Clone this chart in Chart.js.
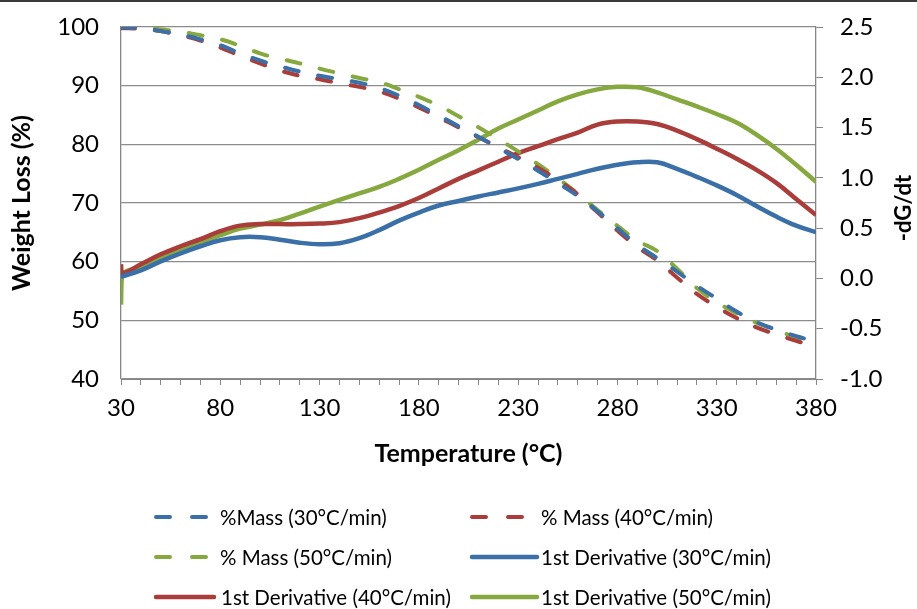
<!DOCTYPE html>
<html>
<head>
<meta charset="utf-8">
<script src="https://cdn.jsdelivr.net/npm/chart.js@4.4.0/dist/chart.umd.min.js"></script>
<style>
  html, body { margin: 0; padding: 0; background: #fff; }
  #wrap { position: relative; width: 917px; height: 609px; overflow: hidden; }
  #topline { position: absolute; left: 0; top: 0; width: 917px; height: 2px; background: #3a3a3a; }
  .leg-text { position: absolute; font-family: Lato, sans-serif; font-size: 20.5px; line-height: 24px; color: #000; white-space: nowrap; }
  .leg-line { position: absolute; }
</style>
</head>
<body>
<div id="wrap">
  <canvas id="chart" width="917" height="609"></canvas>
  <div id="topline"></div>
  <div id="legend"></div>
</div>
<script>
// temperature (°C)
const temps = [30, 30.5, 40, 50, 60, 70, 80, 90, 100, 110, 120, 130, 140, 150, 160, 170, 180, 190, 200,
  210, 220, 230, 240, 250, 260, 270, 280, 290, 300, 310, 320, 330, 340, 350, 360, 370, 380];

// weight loss (%)
const mass30 = [99.9, 99.9, 99.8, 99.3, 98.7, 97.9, 96.9, 95.5, 94.3, 93.3, 92.4, 91.7, 91.1, 90.5, 89.6, 88.3, 86.7, 84.9, 83.1,
  81.3, 79.4, 77.5, 75.5, 73.4, 71.2, 68.6, 65.7, 62.9, 60.6, 58.3, 55.9, 53.7, 51.5, 49.7, 48.4, 47.3, 46.4];
const mass40 = [99.8, 99.8, 99.7, 99.3, 98.6, 97.7, 96.5, 95.1, 93.8, 92.6, 91.7, 91.1, 90.4, 89.8, 89.0, 87.8, 86.3, 84.6, 82.9,
  81.2, 79.5, 77.8, 76.0, 73.9, 71.5, 68.4, 65.3, 62.5, 60.2, 57.3, 54.5, 52.3, 50.4, 48.8, 47.6, 46.5, 45.5];
const mass50 = [100.0, 100.0, 100.0, 99.6, 99.2, 98.6, 97.9, 96.8, 95.5, 94.6, 93.8, 92.9, 92.1, 91.3, 90.6, 89.4, 88.1, 86.6, 84.8,
  82.9, 80.9, 78.8, 76.6, 74.2, 71.6, 68.8, 66.1, 63.6, 61.8, 58.8, 55.5, 53.1, 51.2, 49.6, 48.3, 47.1, 46.1];

// -dG/dt
const deriv30 = [0.02, 0.02, 0.08, 0.17, 0.25, 0.32, 0.38, 0.41, 0.41, 0.385, 0.355, 0.34, 0.35, 0.40, 0.48, 0.575, 0.655, 0.725, 0.77,
  0.815, 0.855, 0.895, 0.94, 0.99, 1.04, 1.09, 1.13, 1.155, 1.155, 1.09, 1.01, 0.925, 0.83, 0.72, 0.615, 0.525, 0.46];
const deriv40 = [0.14, 0.05, 0.14, 0.24, 0.32, 0.39, 0.47, 0.525, 0.54, 0.54, 0.54, 0.545, 0.56, 0.60, 0.655, 0.72, 0.80, 0.895, 0.99,
  1.075, 1.16, 1.245, 1.315, 1.385, 1.45, 1.53, 1.56, 1.56, 1.535, 1.47, 1.385, 1.29, 1.19, 1.08, 0.95, 0.79, 0.63];
const deriv50 = [-0.26, 0.03, 0.12, 0.21, 0.29, 0.36, 0.43, 0.495, 0.535, 0.58, 0.645, 0.715, 0.78, 0.845, 0.91, 0.99, 1.08, 1.18, 1.275,
  1.38, 1.49, 1.58, 1.67, 1.76, 1.83, 1.88, 1.905, 1.90, 1.85, 1.78, 1.71, 1.635, 1.55, 1.43, 1.29, 1.13, 0.96];

const seriesLabels = ['%Mass (30°C/min)', '% Mass (40°C/min)', '% Mass (50°C/min)',
  '1st Derivative (30°C/min)', '1st Derivative (40°C/min)', '1st Derivative (50°C/min)'];

const BLUE = '#3b6fa8';
const RED = '#aa3d3a';
const GREEN = '#86a93f';
const AXIS = '#868686';
const FONT = 'Lato, sans-serif';

function pts(values) {
  return temps.map((t, i) => ({ x: t, y: values[i] }));
}

function massSet(label, values, color) {
  return {
    label: label, data: pts(values), yAxisID: 'y',
    borderColor: color, backgroundColor: color,
    borderWidth: 4, borderDash: [14, 20], borderCapStyle: 'round',
    tension: 0.4, pointRadius: 0, order: 1
  };
}

function derivSet(label, values, color) {
  return {
    label: label, data: pts(values), yAxisID: 'y1',
    borderColor: color, backgroundColor: color,
    borderWidth: 4.5, tension: 0.4, pointRadius: 0, order: 2
  };
}

const colors = [BLUE, RED, GREEN, BLUE, RED, GREEN];

// vertical axes: keep the tick label gap from pushing the plot area down
function fixVertical(width) {
  return s => {
    s.width = width;
    s.paddingTop = 0;
    s.paddingBottom = 0;
  };
}

// right axis title reads bottom-to-top like the left one
const rightTitle = {
  id: 'rightTitle',
  afterDraw(chart) {
    const c = chart.ctx;
    c.save();
    c.translate(904, 208);
    c.rotate(-Math.PI / 2);
    c.font = 'bold 22px ' + FONT;
    c.fillStyle = '#000';
    c.textAlign = 'center';
    c.textBaseline = 'middle';
    c.fillText('-dG/dt', 0, 0);
    c.restore();
  }
};

new Chart(document.getElementById('chart'), {
  type: 'line',
  data: {
    datasets: [
      massSet(seriesLabels[0], mass30, BLUE),
      massSet(seriesLabels[1], mass40, RED),
      massSet(seriesLabels[2], mass50, GREEN),
      derivSet(seriesLabels[3], deriv30, BLUE),
      derivSet(seriesLabels[4], deriv40, RED),
      derivSet(seriesLabels[5], deriv50, GREEN)
    ]
  },
  options: {
    responsive: false,
    animation: false,
    layout: { padding: { left: 0, right: 0, top: 27, bottom: 135 } },
    plugins: { legend: { display: false }, tooltip: { enabled: false } },
    scales: {
      x: {
        type: 'linear', min: 30, max: 380,
        ticks: {
          stepSize: 10, autoSkip: false, maxRotation: 0, padding: 9,
          color: '#000', font: { family: FONT, size: 24 },
          callback: v => ((v - 30) % 50 === 0 ? String(v) : '')
        },
        grid: { drawOnChartArea: false, drawTicks: true, tickLength: 6, color: AXIS },
        border: { color: AXIS, width: 1 },
        title: {
          display: true, text: 'Temperature (°C)', color: '#000',
          font: { family: FONT, size: 25, weight: 'bold' }, padding: { top: 0, bottom: 5 }
        },
        afterFit: s => { s.height = 95; }
      },
      y: {
        position: 'left', min: 40, max: 100,
        ticks: { stepSize: 10, padding: 22, color: '#000', font: { family: FONT, size: 24 } },
        grid: { color: '#8c8c8c', lineWidth: 1.3, drawTicks: false },
        border: { color: AXIS, width: 1.3 },
        title: {
          display: true, text: 'Weight Loss (%)', color: '#000',
          font: { family: FONT, size: 25, weight: 'bold' }, padding: { top: 7, bottom: 0 }
        },
        afterFit: fixVertical(121)
      },
      y1: {
        position: 'right', min: -1, max: 2.5,
        ticks: {
          stepSize: 0.5, padding: 17, color: '#000', font: { family: FONT, size: 24 },
          callback: v => v.toFixed(1)
        },
        grid: { drawOnChartArea: false, drawTicks: true, tickLength: 7, color: AXIS },
        border: { color: AXIS, width: 1.3 },
        afterFit: fixVertical(101)
      }
    }
  },
  plugins: [rightTitle]
});

// legend, two columns in three rows
const legendSlots = [
  { line: [156, 212], text: 220, y: 517 },
  { line: [472, 530], text: 541, y: 517 },
  { line: [156, 212], text: 220, y: 557 },
  { line: [472, 537], text: 541, y: 557 },
  { line: [156, 214], text: 221, y: 597 },
  { line: [472, 537], text: 541, y: 597 }
];
const legend = document.getElementById('legend');
legendSlots.forEach((slot, i) => {
  const dashed = i < 3;
  const w = slot.line[1] - slot.line[0] + 6;
  const svg = document.createElementNS('http://www.w3.org/2000/svg', 'svg');
  svg.setAttribute('class', 'leg-line');
  svg.setAttribute('width', w);
  svg.setAttribute('height', 10);
  svg.style.left = (slot.line[0] - 3) + 'px';
  svg.style.top = (slot.y - 5) + 'px';
  const ln = document.createElementNS('http://www.w3.org/2000/svg', 'line');
  ln.setAttribute('x1', 3);
  ln.setAttribute('x2', w - 3);
  ln.setAttribute('y1', 5);
  ln.setAttribute('y2', 5);
  ln.setAttribute('stroke', colors[i]);
  ln.setAttribute('stroke-width', dashed ? 4 : 4.5);
  ln.setAttribute('stroke-linecap', 'round');
  if (dashed) ln.setAttribute('stroke-dasharray', '14 22');
  svg.appendChild(ln);
  legend.appendChild(svg);
  const t = document.createElement('div');
  t.className = 'leg-text';
  t.style.left = slot.text + 'px';
  t.style.top = (slot.y - 12) + 'px';
  t.textContent = seriesLabels[i];
  legend.appendChild(t);
});
</script>
</body>
</html>
